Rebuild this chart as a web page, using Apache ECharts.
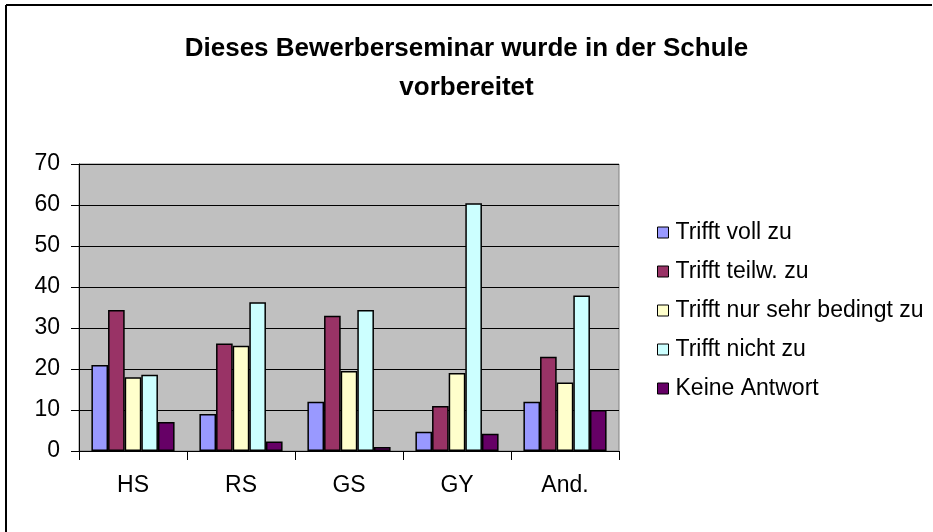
<!DOCTYPE html>
<html lang="de">
<head>
    <meta charset="UTF-8">
    <title>Bewerberseminar</title>
    <script src="https://cdn.jsdelivr.net/npm/echarts@6/dist/echarts.min.js"></script>
    <style>
        html, body {
            margin: 0;
            padding: 0;
            background: #fff;
        }

        #main {
            width: 933px;
            height: 532px;
        }
    </style>
</head>
<body>
<div id="main"></div>

<script type="text/javascript">
    // Daten
    var categories = ['HS', 'RS', 'GS', 'GY', 'And.'];
    var seriesNames = ['Trifft voll zu', 'Trifft teilw. zu', 'Trifft nur sehr bedingt zu', 'Trifft nicht zu', 'Keine Antwort'];
    var volleZu = [21, 9, 12, 4.7, 12];
    var teilwZu = [34.4, 26.2, 33, 11, 23];
    var bedingtZu = [18, 25.7, 19.5, 19, 16.7];
    var nichtZu = [18.6, 36.3, 34.4, 60.4, 37.9];
    var keineAntwort = [7.1, 2.3, 1, 4.2, 10];
    var colors = ['#9999FF', '#993366', '#FFFFCC', '#CCFFFF', '#660066'];

    var fontName = 'Liberation Sans, Arial, sans-serif';
    var allData = [volleZu, teilwZu, bedingtZu, nichtZu, keineAntwort];

    var myChart = echarts.init(document.getElementById('main'));

    var series = [];
    for (var i = 0; i < seriesNames.length; i++) {
        series.push({
            name: seriesNames[i],
            type: 'bar',
            data: allData[i],
            barGap: '0%',
            barCategoryGap: '23%',
            itemStyle: {
                color: colors[i],
                borderColor: '#000',
                borderWidth: 1.5
            }
        });
    }

    var option = {
        backgroundColor: '#fff',
        animation: false,
        title: {
            text: 'Dieses Bewerberseminar wurde in der Schule\nvorbereitet',
            left: 'center',
            top: 24,
            textStyle: {
                fontFamily: fontName,
                fontSize: 26,
                fontWeight: 'bold',
                color: '#000',
                lineHeight: 39
            }
        },
        legend: {
            orient: 'vertical',
            left: 652,
            top: 216,
            itemWidth: 11,
            itemHeight: 11,
            itemGap: 16,
            icon: 'rect',
            data: seriesNames,
            textStyle: {
                fontFamily: fontName,
                fontSize: 23,
                color: '#000',
                padding: [0, 0, 0, 2]
            },
            itemStyle: {
                borderColor: '#000',
                borderWidth: 1
            }
        },
        grid: {
            left: 79,
            top: 164,
            width: 540,
            height: 287,
            show: true,
            backgroundColor: '#C0C0C0',
            borderColor: '#808080',
            borderWidth: 1
        },
        xAxis: {
            type: 'category',
            data: categories,
            axisLine: {lineStyle: {color: '#000', width: 1}},
            axisTick: {show: true, length: 9, lineStyle: {color: '#000'}},
            axisLabel: {
                fontFamily: fontName,
                fontSize: 23,
                color: '#000',
                margin: 23
            }
        },
        yAxis: {
            type: 'value',
            min: 0,
            max: 70,
            interval: 10,
            axisLine: {show: true, lineStyle: {color: '#000', width: 1}},
            axisTick: {show: true, length: 8, lineStyle: {color: '#000'}},
            axisLabel: {
                fontFamily: fontName,
                fontSize: 23,
                color: '#000',
                margin: 19
            },
            splitLine: {show: true, lineStyle: {color: '#000', width: 1}}
        },
        graphic: [
            {
                type: 'line',
                shape: {x1: 6, y1: 5, x2: 932, y2: 5},
                style: {stroke: '#000', lineWidth: 2}
            },
            {
                type: 'line',
                shape: {x1: 6, y1: 5, x2: 6, y2: 532},
                style: {stroke: '#000', lineWidth: 2}
            }
        ],
        series: series
    };

    myChart.setOption(option);
</script>

</body>
</html>
